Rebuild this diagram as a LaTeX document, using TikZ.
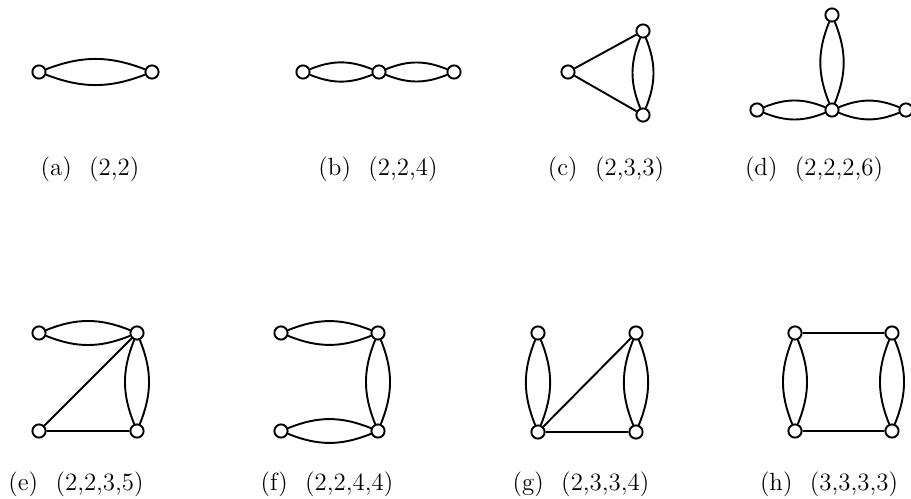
\documentclass[tikz,border=0pt]{standalone}
\begin{document}
\begin{tikzpicture}[x=0.47pt,y=-0.47pt,
  v/.style={circle,draw,fill=white,line width=0.9pt,minimum size=6.2pt,inner sep=0pt},
  e/.style={line width=0.9pt},
  lbl/.style={inner sep=0pt,anchor=center,font=\fontsize{11.7}{14}\selectfont}]
\useasboundingbox (0,0) rectangle (911,499);
\newcommand{\capsep}{\hspace{0.7em}}
% (a)
\node[v] (a1) at (39,72) {};
\node[v] (a2) at (152,72) {};
\draw[e] (a1) to[bend left=21] (a2) (a1) to[bend right=21] (a2);
\node[lbl] (la) at (90,169) {(a)\capsep(2,2)};
% (b)
\node[v] (b1) at (303,72) {};
\node[v] (b2) at (379,72) {};
\node[v] (b3) at (454,72) {};
\draw[e] (b1) to[bend left=22] (b2) (b1) to[bend right=22] (b2)
         (b2) to[bend left=22] (b3) (b2) to[bend right=22] (b3);
\node[lbl] (lb) at (378,169) {(b)\capsep(2,2,4)};
% (c)
\node[v] (c1) at (568,72) {};
\node[v] (c2) at (643,31) {};
\node[v] (c3) at (643,115) {};
\draw[e] (c1) -- (c2) (c1) -- (c3)
         (c2) to[bend left=22] (c3) (c2) to[bend right=22] (c3);
\node[lbl] (lc) at (606,169) {(c)\capsep(2,3,3)};
% (d)
\node[v] (d1) at (832,15) {};
\node[v] (d2) at (832,110) {};
\node[v] (d3) at (757,110) {};
\node[v] (d4) at (906,110) {};
\draw[e] (d1) to[bend left=22] (d2) (d1) to[bend right=22] (d2)
         (d3) to[bend left=22] (d2) (d3) to[bend right=22] (d2)
         (d2) to[bend left=22] (d4) (d2) to[bend right=22] (d4);
\node[lbl] (ld) at (814,169) {(d)\capsep(2,2,2,6)};
% (e)
\node[v] (e1) at (39,333) {};
\node[v] (e2) at (137,333) {};
\node[v] (e3) at (39,431) {};
\node[v] (e4) at (137,431) {};
\draw[e] (e1) to[bend left=22] (e2) (e1) to[bend right=22] (e2)
         (e2) to[bend left=22] (e4) (e2) to[bend right=22] (e4)
         (e3) -- (e2) (e3) -- (e4);
\node[lbl] (le) at (76,484) {(e)\capsep(2,2,3,5)};
% (f)
\node[v] (f1) at (281,333) {};
\node[v] (f2) at (378,333) {};
\node[v] (f3) at (281,431) {};
\node[v] (f4) at (378,431) {};
\draw[e] (f1) to[bend left=22] (f2) (f1) to[bend right=22] (f2)
         (f2) to[bend left=22] (f4) (f2) to[bend right=22] (f4)
         (f3) to[bend left=22] (f4) (f3) to[bend right=22] (f4);
\node[lbl] (lf) at (327,484) {(f)\capsep(2,2,4,4)};
% (g)
\node[v] (g1) at (538,333) {};
\node[v] (g2) at (636,333) {};
\node[v] (g3) at (538,432) {};
\node[v] (g4) at (636,432) {};
\draw[e] (g1) to[bend left=22] (g3) (g1) to[bend right=22] (g3)
         (g2) to[bend left=22] (g4) (g2) to[bend right=22] (g4)
         (g3) -- (g2) (g3) -- (g4);
\node[lbl] (lg) at (581,484) {(g)\capsep(2,3,3,4)};
% (h)
\node[v] (h1) at (795,333) {};
\node[v] (h2) at (892,333) {};
\node[v] (h3) at (795,431) {};
\node[v] (h4) at (892,431) {};
\draw[e] (h1) to[bend left=22] (h3) (h1) to[bend right=22] (h3)
         (h2) to[bend left=22] (h4) (h2) to[bend right=22] (h4)
         (h1) -- (h2) (h3) -- (h4);
\node[lbl] (lh) at (829,484) {(h)\capsep(3,3,3,3)};
\end{tikzpicture}
\end{document}
